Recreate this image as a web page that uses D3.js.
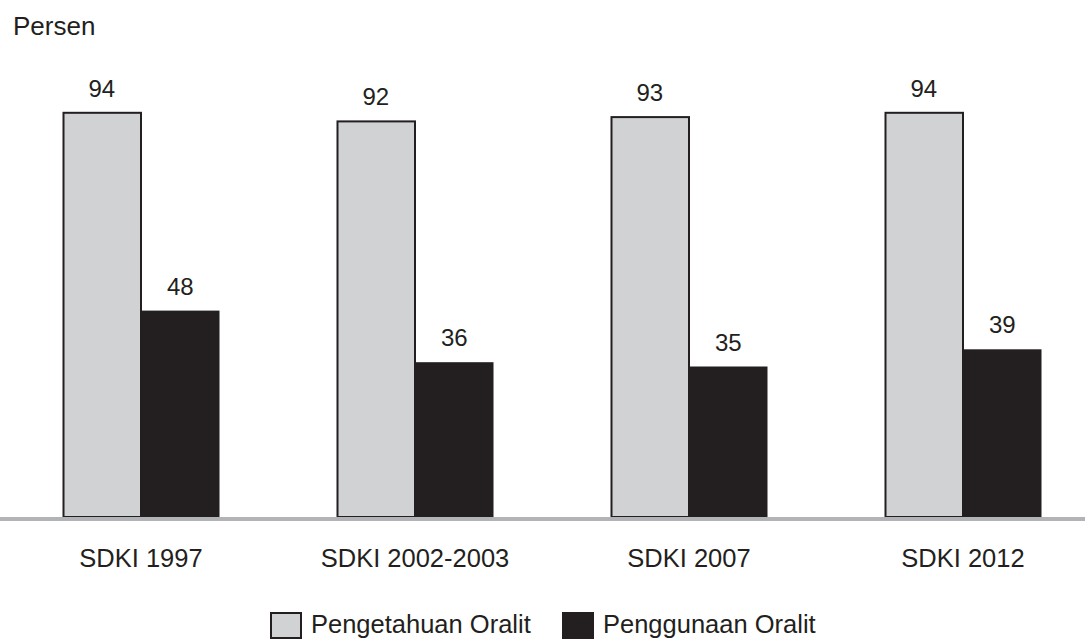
<!DOCTYPE html>
<html>
<head>
<meta charset="utf-8">
<script src="https://cdn.jsdelivr.net/npm/d3@7"></script>
<style>
  html, body { margin: 0; padding: 0; background: #fff; }
  svg { display: block; }
  text { font-family: "Liberation Sans", Arial, Helvetica, sans-serif; fill: #231f20; }
</style>
</head>
<body>
<svg id="chart" width="1085" height="640"></svg>
<script>
// Survey rounds and the two ORS indicators (percent)
const categories = ["SDKI 1997", "SDKI 2002-2003", "SDKI 2007", "SDKI 2012"];
const seriesNames = ["Pengetahuan Oralit", "Penggunaan Oralit"];
const pengetahuan = [94, 92, 93, 94];
const penggunaan = [48, 36, 35, 39];

const fills = ["#d1d2d4", "#231f20"];
const W = 1085, H = 640;
const baseY = 517;

const rows = categories.map((c, i) => ({
  cat: c,
  vals: [
    { key: seriesNames[0], v: pengetahuan[i], s: 0 },
    { key: seriesNames[1], v: penggunaan[i], s: 1 }
  ]
}));

const svg = d3.select("#chart");

const x0 = d3.scaleBand().domain(categories).range([4, 1100])
  .paddingInner(0.427).paddingOuter(0.2135);
const x1 = d3.scaleBand().domain(seriesNames).range([0, x0.bandwidth()]).padding(0);
const y = d3.scaleLinear().domain([0, 100]).range([baseY, 87]);

// axis title
svg.append("text").attr("x", 13).attr("y", 35)
  .style("font-size", "26px").text("Persen");

const groups = svg.append("g").selectAll("g").data(rows).join("g")
  .attr("transform", d => `translate(${x0(d.cat)},0)`);

groups.selectAll("rect").data(d => d.vals).join("rect")
  .attr("x", d => x1(d.key) + (d.s === 0 ? 1 : 0))
  .attr("y", d => y(d.v))
  .attr("width", d => x1.bandwidth() - (d.s === 0 ? 1 : 0))
  .attr("height", d => y(0) - y(d.v))
  .attr("fill", d => fills[d.s])
  .attr("stroke", "#231f20")
  .attr("stroke-width", d => d.s === 0 ? 2 : 0);

groups.selectAll("text.val").data(d => d.vals).join("text")
  .attr("class", "val")
  .attr("x", d => x1(d.key) + x1.bandwidth() / 2)
  .attr("y", d => y(d.v) - 16)
  .attr("text-anchor", "middle")
  .style("font-size", "24px")
  .text(d => d.v);

// baseline
svg.append("line")
  .attr("x1", 0).attr("x2", W)
  .attr("y1", baseY + 2).attr("y2", baseY + 2)
  .attr("stroke", "#b1b3b6").attr("stroke-width", 4);

// category labels
const xAxis = d3.axisBottom(x0).tickSize(0).tickPadding(0);
const axisG = svg.append("g").attr("transform", `translate(0,${baseY})`).call(xAxis);
axisG.select(".domain").remove();
axisG.selectAll(".tick text")
  .attr("y", 50).attr("dy", 0)
  .style("font-size", "25.5px")
  .attr("font-family", null)
  .attr("fill", "#231f20");

// legend
const legendX = [271, 563];
const lg = svg.append("g").selectAll("g").data(seriesNames).join("g")
  .attr("transform", (d, i) => `translate(${legendX[i]},613)`);
lg.append("rect")
  .attr("width", 30).attr("height", 25)
  .attr("fill", (d, i) => fills[i])
  .attr("stroke", "#231f20").attr("stroke-width", 2);
lg.append("text")
  .attr("x", 40).attr("y", 20)
  .style("font-size", "25.5px")
  .text(d => d);
</script>
</body>
</html>
